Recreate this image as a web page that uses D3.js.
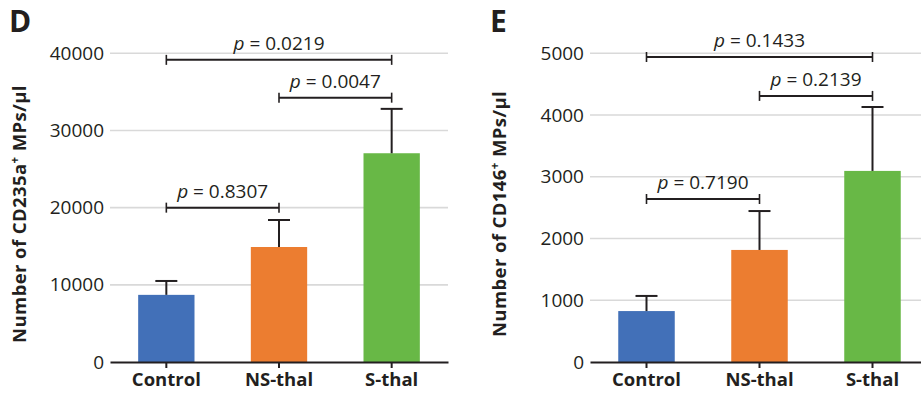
<!DOCTYPE html>
<html>
<head>
<meta charset="utf-8">
<script src="https://cdn.jsdelivr.net/npm/d3@7"></script>
<style>
  html, body { margin: 0; padding: 0; background: #fff; }
  svg { display: block; }
  text { font-family: "Open Sans", "Noto Sans", sans-serif; fill: #231f20; }
</style>
</head>
<body>
<svg id="chart" width="921" height="398"></svg>
<script>
// ---------- data ----------
const categories = ["Control", "NS-thal", "S-thal"];
const barColors = ["#4270b8", "#ec7d30", "#68b846"];

// Panel D: CD235a+ MPs
const cd235aMeans = [8700, 14900, 27050];
const cd235aUpper = [10500, 18400, 32800];
const cd235aTicks = [0, 10000, 20000, 30000, 40000];
const cd235aPairs = [[0, 1], [1, 2], [0, 2]];
const cd235aPairLevels = [20000, 34250, 39150];
const cd235aPValues = ["0.8307", "0.0047", "0.0219"];

// Panel E: CD146+ MPs
const cd146Means = [825, 1815, 3095];
const cd146Upper = [1070, 2445, 4130];
const cd146Ticks = [0, 1000, 2000, 3000, 4000, 5000];
const cd146Pairs = [[0, 1], [1, 2], [0, 2]];
const cd146PairLevels = [2640, 4310, 4940];
const cd146PValues = ["0.7190", "0.2139", "0.1433"];

const svg = d3.select("#chart");
const dark = "#231f20";

function drawPanel(opt) {
  const g = svg.append("g");
  const x = d3.scaleBand().domain(opt.categories).range([opt.x0, opt.x1])
    .paddingInner(0.5).paddingOuter(0.25);
  const y = d3.scaleLinear().domain([0, opt.yMax]).range([362, 53.3]);

  // gridlines
  g.selectAll("line.grid").data(opt.ticks.filter(t => t > 0)).join("line")
    .attr("class", "grid")
    .attr("x1", opt.x0).attr("x2", opt.x1)
    .attr("y1", d => y(d)).attr("y2", d => y(d))
    .attr("stroke", "#d9d9d9").attr("stroke-width", 1.6);

  // y axis (labels only)
  const yAxis = d3.axisLeft(y).tickValues(opt.ticks).tickSize(0).tickPadding(0)
    .tickFormat(d3.format("d"));
  const ya = g.append("g").attr("transform", `translate(${opt.x0 - 6},0)`).call(yAxis);
  ya.select(".domain").remove();
  ya.selectAll("text").attr("font-size", 19).attr("fill", dark)
    .style("font-family", '"Open Sans", sans-serif');

  // bars
  g.selectAll("rect.bar").data(opt.means).join("rect")
    .attr("class", "bar")
    .attr("x", (d, i) => x(opt.categories[i]))
    .attr("width", x.bandwidth())
    .attr("y", d => y(d))
    .attr("height", d => y(0) - y(d))
    .attr("fill", (d, i) => barColors[i]);

  // error bars
  const cx = i => x(opt.categories[i]) + x.bandwidth() / 2;
  g.selectAll("line.err").data(opt.upper).join("line")
    .attr("x1", (d, i) => cx(i)).attr("x2", (d, i) => cx(i))
    .attr("y1", (d, i) => y(opt.means[i])).attr("y2", d => y(d))
    .attr("stroke", dark).attr("stroke-width", 2);
  g.selectAll("line.cap").data(opt.upper).join("line")
    .attr("x1", (d, i) => cx(i) - 11).attr("x2", (d, i) => cx(i) + 11)
    .attr("y1", d => y(d)).attr("y2", d => y(d))
    .attr("stroke", dark).attr("stroke-width", 2);

  // x axis
  const xAxis = d3.axisBottom(x).tickSize(6).tickSizeOuter(0).tickPadding(5);
  const xa = g.append("g").attr("transform", `translate(0,${y(0)})`).call(xAxis);
  xa.select(".domain").attr("stroke", dark).attr("stroke-width", 2);
  xa.selectAll(".tick line").attr("stroke", dark).attr("stroke-width", 2);
  xa.selectAll("text").attr("font-size", 18.5).attr("font-weight", "bold").attr("fill", dark)
    .style("font-family", '"Open Sans", sans-serif');

  // significance brackets
  opt.pairs.forEach((p, k) => {
    const xa1 = cx(p[0]), xa2 = cx(p[1]), yy = y(opt.levels[k]);
    g.append("line").attr("x1", xa1).attr("x2", xa2).attr("y1", yy).attr("y2", yy)
      .attr("stroke", dark).attr("stroke-width", 2);
    [xa1, xa2].forEach(xx => g.append("line").attr("x1", xx).attr("x2", xx)
      .attr("y1", yy - 5).attr("y2", yy + 5).attr("stroke", dark).attr("stroke-width", 1.6));
    const t = g.append("text").attr("x", (xa1 + xa2) / 2).attr("y", yy - 10)
      .attr("text-anchor", "middle").attr("font-size", 19);
    t.append("tspan").attr("font-style", "italic").text("p");
    t.append("tspan").text(" = " + opt.pvals[k]);
  });

  // y title
  const tt = g.append("text")
    .attr("transform", `translate(${opt.titleX},214) rotate(-90)`)
    .attr("text-anchor", "middle").attr("font-size", 18.5).attr("font-weight", "bold")
    .attr("letter-spacing", 0.4);
  tt.append("tspan").text(opt.titleA);
  tt.append("tspan").attr("font-size", 11.5).attr("dy", -7.5).text("+");
  tt.append("tspan").attr("dy", 7.5).text(" MPs/μl");

  // panel letter
  g.append("text").attr("x", opt.letterX).attr("y", 32)
    .attr("font-size", 30).attr("font-weight", "bold").text(opt.letter);
}

drawPanel({
  categories, means: cd235aMeans, upper: cd235aUpper, ticks: cd235aTicks,
  yMax: 40000, x0: 110, x1: 448, pairs: cd235aPairs, levels: cd235aPairLevels,
  pvals: cd235aPValues, titleA: "Number of CD235a", titleX: 26, letter: "D", letterX: 9
});
drawPanel({
  categories, means: cd146Means, upper: cd146Upper, ticks: cd146Ticks,
  yMax: 5000, x0: 590, x1: 929, pairs: cd146Pairs, levels: cd146PairLevels,
  pvals: cd146PValues, titleA: "Number of CD146", titleX: 506, letter: "E", letterX: 490
});
</script>
</body>
</html>
